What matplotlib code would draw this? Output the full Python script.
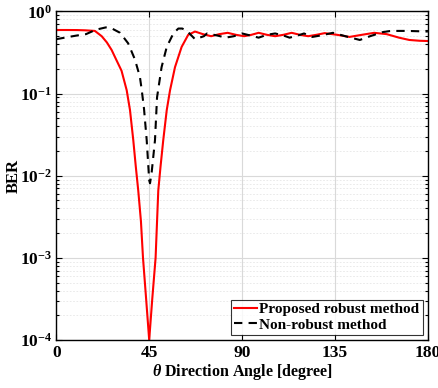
import matplotlib
matplotlib.use("Agg")
import matplotlib.pyplot as plt
from matplotlib.ticker import LogLocator, NullFormatter, FixedLocator

plt.rcParams['font.family'] = ['Liberation Serif', 'DejaVu Serif']
plt.rcParams['font.weight'] = 'bold'
plt.rcParams['mathtext.fontset'] = 'custom'
plt.rcParams['mathtext.rm'] = 'Liberation Serif:bold'
plt.rcParams['mathtext.it'] = 'Liberation Serif:italic:bold'
plt.rcParams['mathtext.bf'] = 'Liberation Serif:bold'

# Proposed robust method (red)
angle_robust = [0, 5, 10, 14, 18.7, 22, 24.5, 26.8, 29, 31.6, 34.1, 35.7, 37.3, 38.5,
                39.7, 41, 42, 43.5, 45, 46.5, 48.1, 49.4, 50.5, 51.8, 53.5, 55.1,
                57.5, 60.7, 63.9, 67.2, 71, 75, 79, 83, 87, 91, 94.5, 98, 102, 106,
                110, 114, 118, 122, 126, 130, 136, 142, 148, 154, 160, 166, 171, 176, 180]
ber_robust = [0.595, 0.595, 0.594, 0.59, 0.58, 0.50, 0.42, 0.34, 0.26, 0.19, 0.11, 0.063,
              0.027, 0.013, 0.0066, 0.0028, 0.001, 0.00032, 0.0001, 0.00032, 0.001,
              0.0066, 0.013, 0.027, 0.063, 0.11, 0.21, 0.37, 0.52, 0.57, 0.53, 0.50,
              0.53, 0.55, 0.52, 0.50, 0.52, 0.55, 0.52, 0.50, 0.52, 0.55, 0.52, 0.50,
              0.52, 0.545, 0.52, 0.49, 0.52, 0.55, 0.53, 0.48, 0.45, 0.44, 0.437]

# Non-robust method (black dashed)
angle_nonrobust = [0, 6, 10, 14.4, 19.2, 24, 27, 30.9, 34.8, 38.1, 40.5, 41.4, 42.5,
                   43.8, 45, 45.4, 46.2, 47.8, 48.8, 51, 53.5, 56.7, 59.1, 61, 63.3,
                   67.2, 71.5, 73, 78, 82, 86, 90, 94, 98, 102, 106, 110, 113, 117,
                   120, 124, 128, 134, 140, 147, 152, 158, 162, 170, 180]
ber_nonrobust = [0.46, 0.49, 0.51, 0.53, 0.60, 0.64, 0.62, 0.55, 0.41, 0.26, 0.16, 0.11,
                 0.065, 0.027, 0.0088, 0.0081, 0.011, 0.027, 0.09, 0.21, 0.37, 0.54,
                 0.62, 0.62, 0.58, 0.46, 0.50, 0.54, 0.51, 0.48, 0.50, 0.54, 0.51, 0.48,
                 0.52, 0.54, 0.51, 0.48, 0.51, 0.54, 0.49, 0.51, 0.55, 0.50, 0.45, 0.50,
                 0.56, 0.58, 0.58, 0.57]

xticks = [0, 45, 90, 135, 180]
legend_labels = ['Proposed robust method', 'Non-robust method']

fig = plt.figure(figsize=(4.38, 3.88), dpi=100)
ax = fig.add_axes([0.1285, 0.1237, 0.977 - 0.1285, 0.9704 - 0.1237])

ax.plot(angle_robust, ber_robust, color='#ff0000', lw=1.5, label=legend_labels[0])
ax.plot(angle_nonrobust, ber_nonrobust, color='black', lw=1.5, ls=(0, (4, 3)),
        label=legend_labels[1])

ax.set_yscale('log')
ax.set_ylim(1e-4, 1)
ax.set_xlim(0, 180)
ax.xaxis.set_major_locator(FixedLocator(xticks))
ax.yaxis.set_major_locator(LogLocator(base=10, numticks=10))
ax.yaxis.set_minor_locator(LogLocator(base=10, subs=range(2, 10), numticks=20))
ax.yaxis.set_minor_formatter(NullFormatter())

ax.grid(True, which='major', color='#d9d9d9', lw=0.8, ls='-')
ax.grid(True, which='minor', axis='y', color='#e6e6e6', lw=0.6, ls=(0, (2, 2)))
ax.set_axisbelow(True)

ax.tick_params(which='both', direction='in', top=True, right=True, labelsize=12.5,
               width=0.8, colors='black')
ax.tick_params(which='major', length=4)
ax.tick_params(which='minor', length=2.5)
ax.tick_params(axis='x', which='minor', top=False, bottom=False)
ax.tick_params(axis='y', pad=3)
for lbl in ax.get_xticklabels() + ax.get_yticklabels():
    lbl.set_fontweight('bold')
for s in ax.spines.values():
    s.set_linewidth(1.0)

ax.set_xlabel(r'$\theta$ Direction Angle [degree]', fontsize=11.5, fontweight='bold', labelpad=1)
ax.set_ylabel('BER', fontsize=12, fontweight='bold')
ax.yaxis.set_label_coords(-0.092, 0.5)

leg = ax.legend(loc='lower right', fontsize=11, frameon=True, fancybox=False,
                edgecolor='black', borderpad=0.2, labelspacing=0.1, handlelength=1.5,
                handletextpad=0.15, borderaxespad=0.35)
leg.get_frame().set_linewidth(0.8)
for t in leg.get_texts():
    t.set_fontweight('bold')

fig.savefig('out.png', dpi=100)
